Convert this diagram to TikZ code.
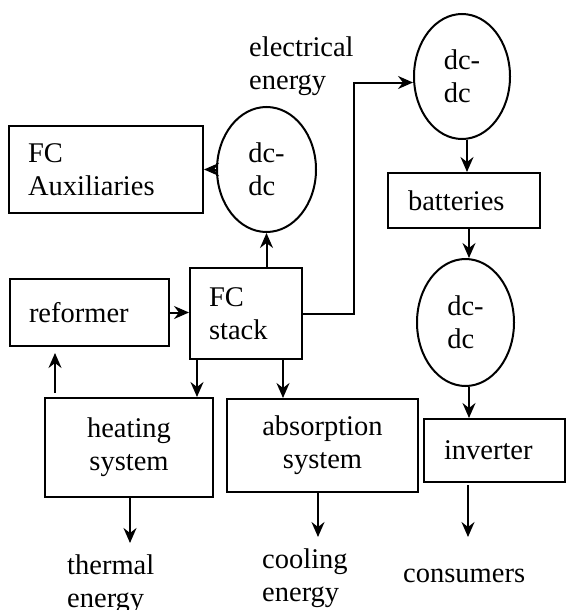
\documentclass[tikz,border=0pt]{standalone}
\usepackage{fontspec}
\setmainfont{Liberation Serif}
\usetikzlibrary{shapes.geometric,arrows.meta}
\begin{document}
\begin{tikzpicture}[x=1pt,y=-1pt,
  every node/.style={font=\fontsize{28.5}{33}\selectfont},
  box/.style={draw, line width=2pt, inner ysep=0pt},
  lbox/.style={box, align=left},
  cbox/.style={box, align=center, inner xsep=0pt},
  oval/.style={draw, ellipse, line width=2pt, inner sep=0pt, align=left},
  lab/.style={align=left, inner sep=0pt, anchor=base west},
  arr/.style={line width=2pt, -{Stealth[length=15pt,width=13pt,inset=5pt]}}]
\useasboundingbox (0,0) rectangle (566,610);

% boxes
\node[lbox, text width=156pt, inner xsep=19pt, minimum height=87pt] (aux) at (106,169.5) {FC\\Auxiliaries};
\node[lbox, text width=121pt, inner xsep=19pt, minimum height=67pt] (ref) at (89.5,312.5) {reformer};
\node[lbox, text width=74pt, inner xsep=19pt, minimum height=91pt] (stack) at (246,313.5) {FC\\stack};
\node[lbox, text width=112pt, inner xsep=20pt, minimum height=55pt] (bat) at (464,200.5) {batteries};
\node[lbox, text width=101pt, inner xsep=20pt, minimum height=63pt] (inv) at (494.5,450.5) {inverter};
\node[cbox, minimum width=168pt, minimum height=99pt] (heat) at (129,447.5) {heating\\system};
\node[cbox, minimum width=191pt, minimum height=93pt] (abs) at (322.5,445.5) {absorption\\system};

% ellipses
\node[oval, minimum width=99pt, minimum height=125pt] (lel) at (266.5,169.5) {dc-\\dc};
\node[oval, minimum width=96pt, minimum height=125pt] (rel) at (462,76.5) {dc-\\dc};
\node[oval, minimum width=97pt, minimum height=127pt] (mel) at (465.5,322.5) {dc-\\dc};

% labels (anchor = baseline of last line)
\node[lab] (elec) at (249,89) {electrical\\energy};
\node[lab] (therm) at (67,607) {thermal\\energy};
\node[lab] (cool) at (262,601) {cooling\\energy};
\node[lab] (cons) at (403,582) {consumers};

% connectors
\draw[arr] (stack.north -| lel.south) -- (lel.south);
\draw[arr] (lel.west) -- (lel.west -| aux.east);
\draw[arr] ([xshift=-2pt]ref.east) -- (ref.east -| stack.west);
\draw[arr] ([xshift=8pt]stack.south west) -- ([xshift=8pt]stack.south west |- heat.north);
\draw[arr] ([xshift=-20pt]stack.south east) -- ([xshift=-20pt]stack.south east |- abs.north);
\draw[arr, shorten <=4pt, shorten >=6pt] ([xshift=11pt]heat.north west) -- ([xshift=11pt]heat.north west |- ref.south);
\coordinate (thE) at (130,543);
\draw[arr] (heat.south -| thE) -- (thE);
\coordinate (coE) at (318,537);
\draw[arr] (abs.south -| coE) -- (coE);
\coordinate (cnE) at (468,537);
\draw[arr] ([yshift=-2pt]inv.south -| cnE) -- (cnE);
\draw[arr] (stack.east) -- ++(51,0) |- ([yshift=-6pt]rel.west);
\draw[arr] ([xshift=5pt]rel.south) -- ([xshift=5pt]rel.south |- bat.north);
\draw[arr] ([xshift=3.5pt]bat.south -| mel.north) -- ([xshift=3.5pt]mel.north);
\draw[arr] ([xshift=3.5pt]mel.south) -- ([xshift=3.5pt]mel.south |- inv.north);
\end{tikzpicture}
\end{document}
